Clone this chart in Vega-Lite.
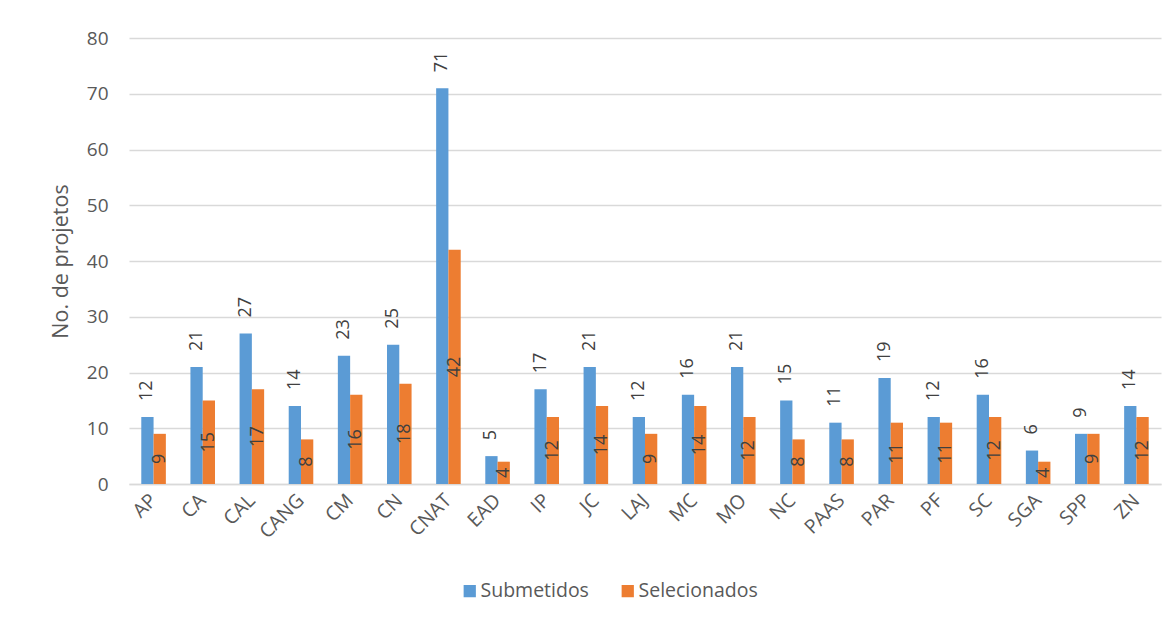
{
  "$schema": "https://vega.github.io/schema/vega-lite/v6.json",
  "autosize": {"type": "none"},
  "padding": {"left": 129, "top": 38, "right": 1, "bottom": 140},
  "width": 1032,
  "height": 446,
  "background": "white",
  "config": {
    "font": "Open Sans",
    "view": {"stroke": null},
    "axis": {"labelColor": "#595959", "titleColor": "#595959", "labelFont": "Open Sans", "titleFont": "Open Sans"}
  },
  "data": {
    "values": [
      {"cat": "AP", "serie": "Submetidos", "valor": 12}, {"cat": "AP", "serie": "Selecionados", "valor": 9},
      {"cat": "CA", "serie": "Submetidos", "valor": 21}, {"cat": "CA", "serie": "Selecionados", "valor": 15},
      {"cat": "CAL", "serie": "Submetidos", "valor": 27}, {"cat": "CAL", "serie": "Selecionados", "valor": 17},
      {"cat": "CANG", "serie": "Submetidos", "valor": 14}, {"cat": "CANG", "serie": "Selecionados", "valor": 8},
      {"cat": "CM", "serie": "Submetidos", "valor": 23}, {"cat": "CM", "serie": "Selecionados", "valor": 16},
      {"cat": "CN", "serie": "Submetidos", "valor": 25}, {"cat": "CN", "serie": "Selecionados", "valor": 18},
      {"cat": "CNAT", "serie": "Submetidos", "valor": 71}, {"cat": "CNAT", "serie": "Selecionados", "valor": 42},
      {"cat": "EAD", "serie": "Submetidos", "valor": 5}, {"cat": "EAD", "serie": "Selecionados", "valor": 4},
      {"cat": "IP", "serie": "Submetidos", "valor": 17}, {"cat": "IP", "serie": "Selecionados", "valor": 12},
      {"cat": "JC", "serie": "Submetidos", "valor": 21}, {"cat": "JC", "serie": "Selecionados", "valor": 14},
      {"cat": "LAJ", "serie": "Submetidos", "valor": 12}, {"cat": "LAJ", "serie": "Selecionados", "valor": 9},
      {"cat": "MC", "serie": "Submetidos", "valor": 16}, {"cat": "MC", "serie": "Selecionados", "valor": 14},
      {"cat": "MO", "serie": "Submetidos", "valor": 21}, {"cat": "MO", "serie": "Selecionados", "valor": 12},
      {"cat": "NC", "serie": "Submetidos", "valor": 15}, {"cat": "NC", "serie": "Selecionados", "valor": 8},
      {"cat": "PAAS", "serie": "Submetidos", "valor": 11}, {"cat": "PAAS", "serie": "Selecionados", "valor": 8},
      {"cat": "PAR", "serie": "Submetidos", "valor": 19}, {"cat": "PAR", "serie": "Selecionados", "valor": 11},
      {"cat": "PF", "serie": "Submetidos", "valor": 12}, {"cat": "PF", "serie": "Selecionados", "valor": 11},
      {"cat": "SC", "serie": "Submetidos", "valor": 16}, {"cat": "SC", "serie": "Selecionados", "valor": 12},
      {"cat": "SGA", "serie": "Submetidos", "valor": 6}, {"cat": "SGA", "serie": "Selecionados", "valor": 4},
      {"cat": "SPP", "serie": "Submetidos", "valor": 9}, {"cat": "SPP", "serie": "Selecionados", "valor": 9},
      {"cat": "ZN", "serie": "Submetidos", "valor": 14}, {"cat": "ZN", "serie": "Selecionados", "valor": 12}
    ]
  },
  "encoding": {
    "x": {
      "field": "cat", "type": "nominal", "sort": null,
      "scale": {"paddingInner": 0.5, "paddingOuter": 0.25},
      "axis": {"title": null, "labelAngle": -45, "labelAlign": "right", "labelBaseline": "middle", "labelFontSize": 19.5, "labelPadding": 13, "ticks": false, "domainColor": "#d9d9d9", "domainWidth": 1.5, "labelOverlap": false}
    },
    "xOffset": {"field": "serie", "type": "nominal", "sort": ["Submetidos", "Selecionados"], "scale": {"domain": ["Submetidos", "Selecionados"], "paddingInner": 0, "paddingOuter": 0}}
  },
  "layer": [
    {
      "mark": {"type": "bar"},
      "encoding": {
        "y": {"field": "valor", "type": "quantitative", "scale": {"domain": [0, 80]},
          "axis": {"title": "No. de projetos", "titleFontSize": 21.5, "titleFontWeight": "normal", "titlePadding": 14, "values": [0,10,20,30,40,50,60,70,80], "labelFontSize": 19, "labelPadding": 21, "ticks": false, "domain": false, "gridColor": "#d9d9d9", "gridWidth": 1.5}},
        "color": {"field": "serie", "type": "nominal", "sort": ["Submetidos", "Selecionados"],
          "scale": {"domain": ["Submetidos", "Selecionados"], "range": ["#5B9BD5", "#ED7D31"]},
          "legend": {"title": null, "orient": "none", "direction": "horizontal", "legendX": 331, "legendY": 543, "symbolType": "square", "symbolSize": 150, "symbolStrokeWidth": 0, "labelFontSize": 19.5, "labelColor": "#595959", "labelFont": "Open Sans", "columnPadding": 29, "labelOffset": 1}}
      }
    },
    {
      "transform": [{"filter": "datum.serie == 'Submetidos'"}],
      "mark": {"type": "text", "angle": 270, "align": "left", "baseline": "middle", "dx": 16, "fontSize": 18, "color": "#404040"},
      "encoding": {
        "y": {"field": "valor", "type": "quantitative", "scale": {"domain": [0, 80]}, "axis": null},
        "text": {"field": "valor", "type": "quantitative"}
      }
    },
    {
      "transform": [{"filter": "datum.serie == 'Selecionados'"}],
      "mark": {"type": "text", "angle": 270, "align": "center", "baseline": "middle", "fontSize": 18, "color": "#404040"},
      "encoding": {
        "y": {"field": "valor", "type": "quantitative", "scale": {"domain": [0, 160]}, "axis": null},
        "text": {"field": "valor", "type": "quantitative"}
      }
    }
  ],
  "resolve": {"scale": {"y": "independent"}}
}
